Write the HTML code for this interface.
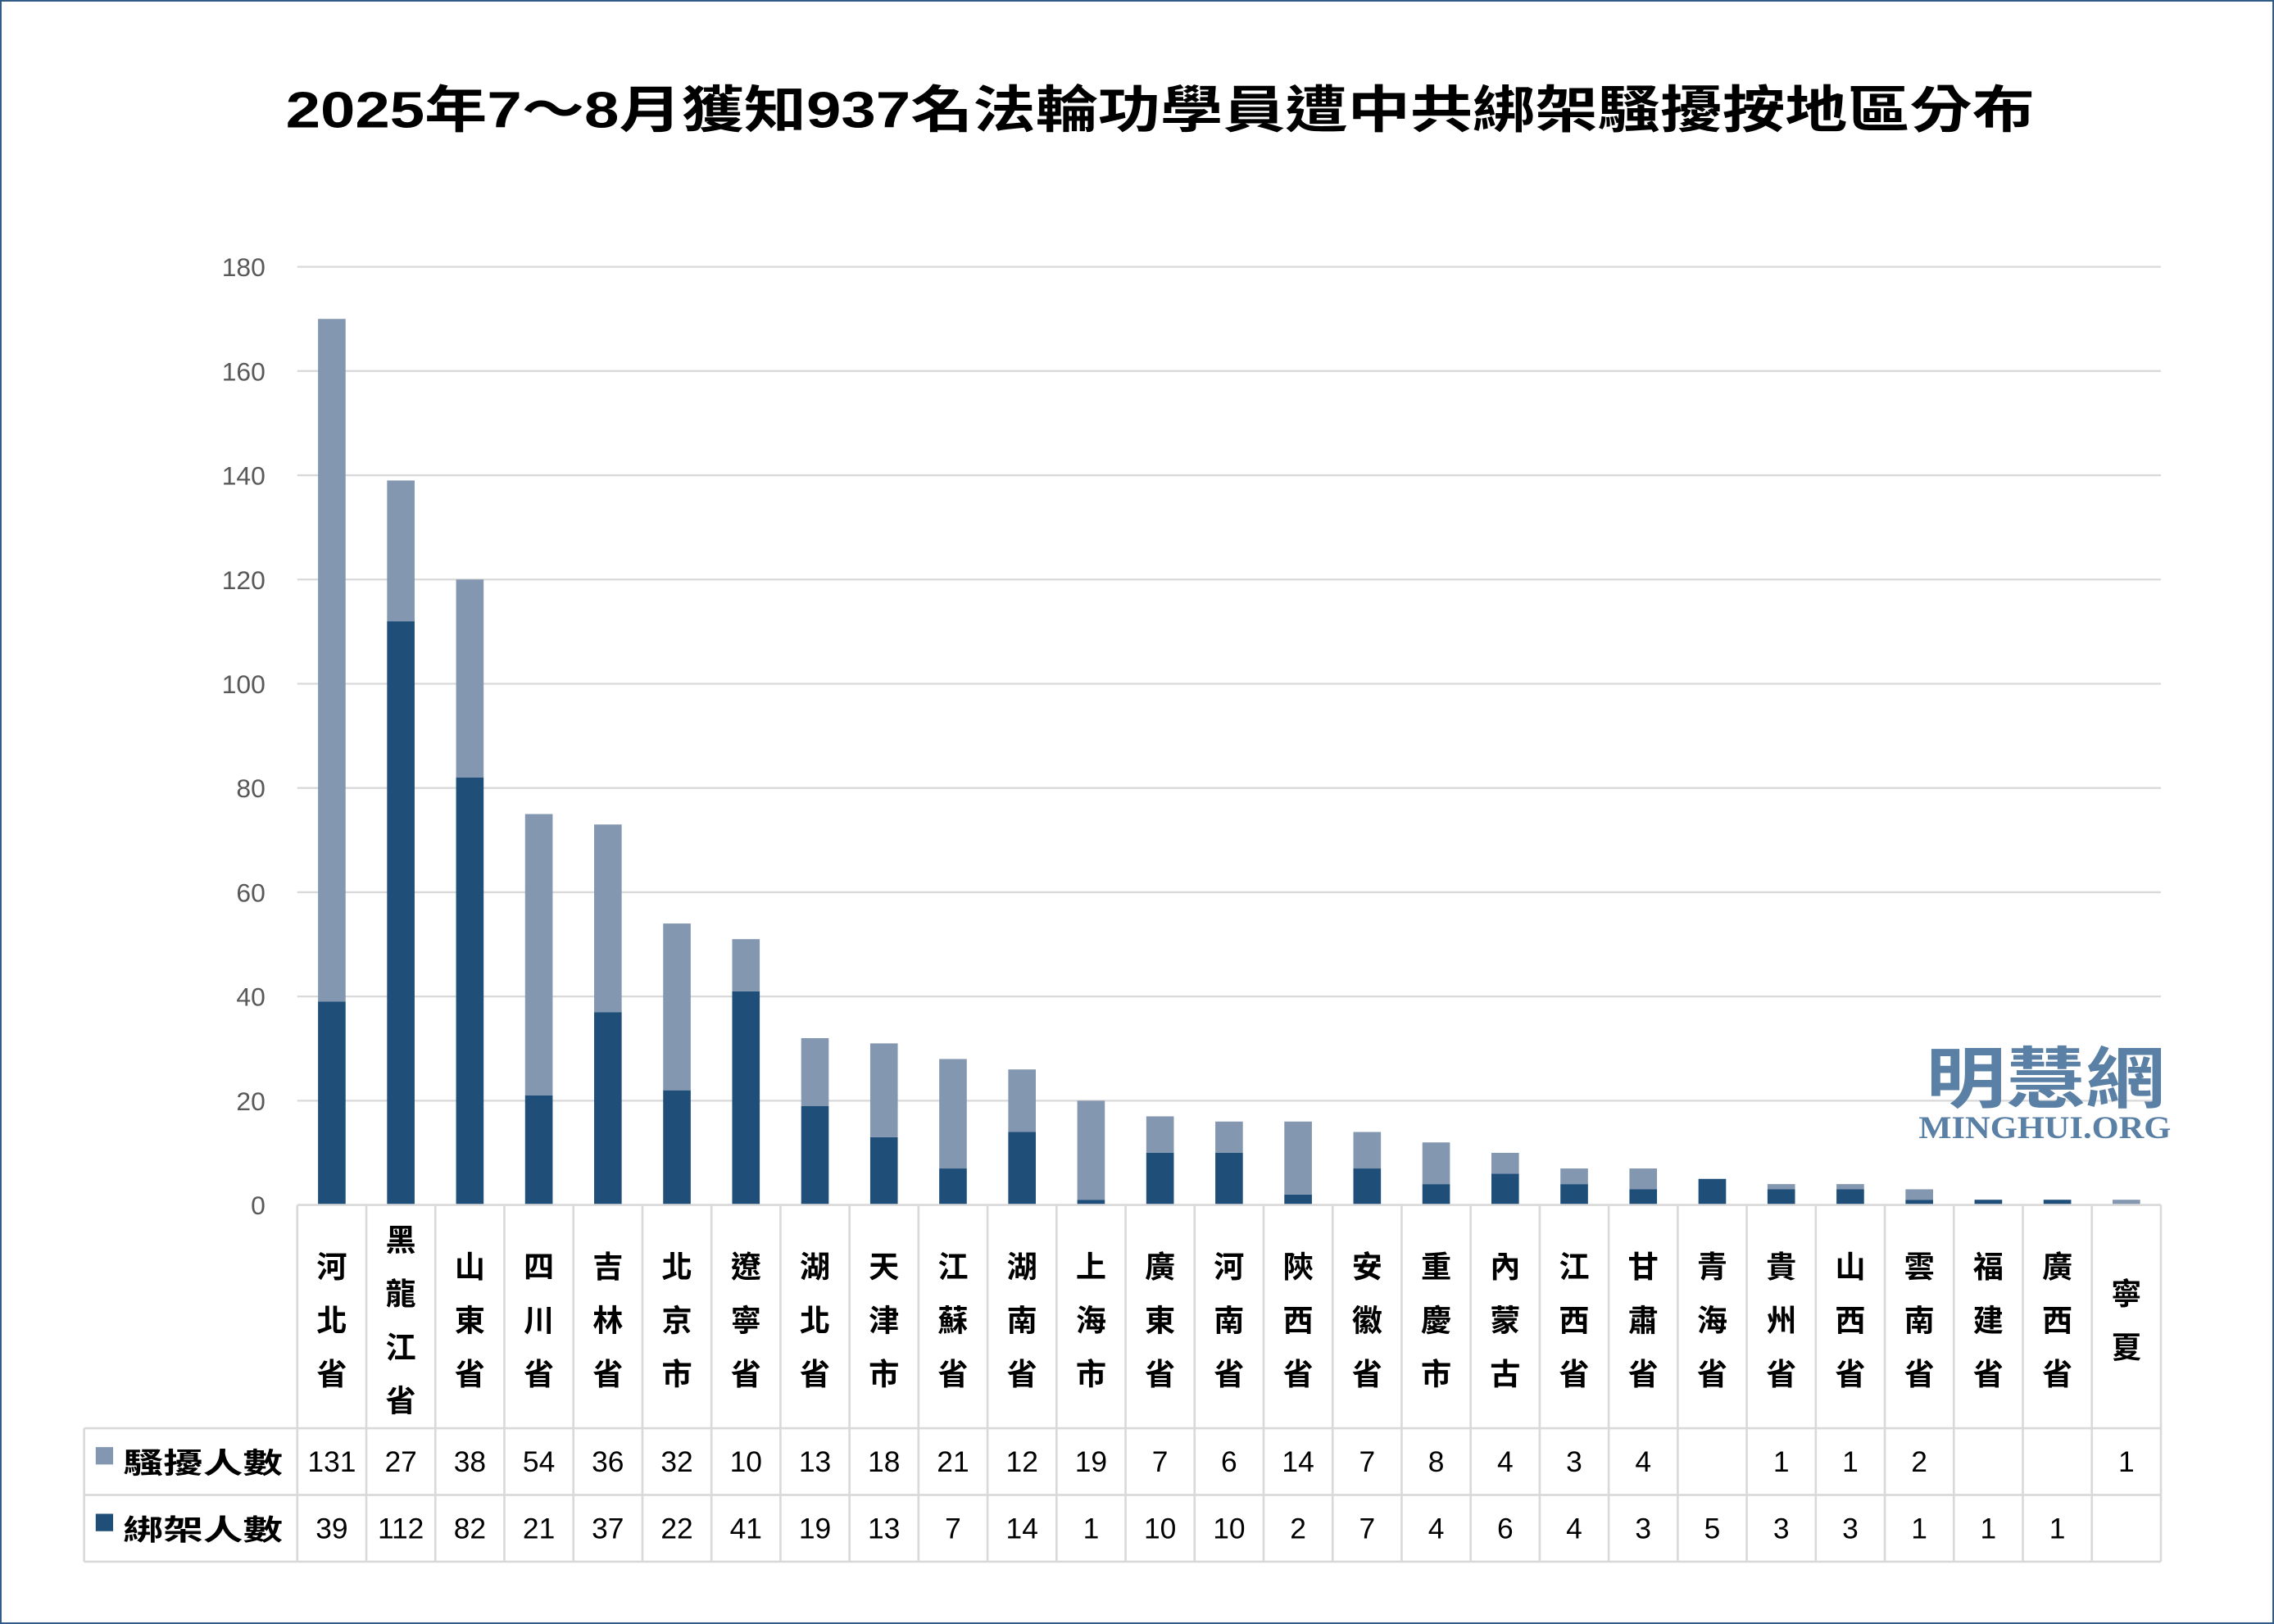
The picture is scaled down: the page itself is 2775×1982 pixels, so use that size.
<!DOCTYPE html>
<html><head><meta charset="utf-8">
<style>
html,body{margin:0;padding:0;background:#fff;}
svg{display:block;}
text{font-family:"Liberation Sans","Noto Sans CJK TC",sans-serif;}
</style></head>
<body>
<svg id="c" width="2775" height="1982" viewBox="0 0 1568 1120" preserveAspectRatio="none" xmlns="http://www.w3.org/2000/svg">
<rect x="0.5" y="0.5" width="1567" height="1119" fill="#fff" stroke="#2f5a86" stroke-width="1.2"/>
<text x="197" y="88" textLength="1206" lengthAdjust="spacingAndGlyphs" font-size="35" font-weight="bold" fill="#000">2025年7～8月獲知937名法輪功學員遭中共綁架騷擾按地區分布</text>
<g id="g"></g>
<text x="1328" y="760" textLength="165" lengthAdjust="spacingAndGlyphs" font-size="46" font-weight="bold" fill="#5b80a5" style="font-family:'Noto Sans CJK TC',sans-serif">明慧網</text>
<text x="1323" y="785" textLength="174" lengthAdjust="spacingAndGlyphs" font-size="22" font-weight="bold" fill="#5b80a5" style="font-family:'Liberation Serif',serif">MINGHUI.ORG</text>
</svg>
<script>
var names=["河北省","黑龍江省","山東省","四川省","吉林省","北京市","遼寧省","湖北省","天津市","江蘇省","湖南省","上海市","廣東省","河南省","陝西省","安徽省","重慶市","內蒙古","江西省","甘肅省","青海省","貴州省","山西省","雲南省","福建省","廣西省","寧夏"];
var h=[131,27,38,54,36,32,10,13,18,21,12,19,7,6,14,7,8,4,3,4,0,1,1,2,0,0,1];
var a=[39,112,82,21,37,22,41,19,13,7,14,1,10,10,2,7,4,6,4,3,5,3,3,1,1,1,0];
var s="",L=205,R=1490,Y0=831,K=647/180,W=(R-L)/27;
function y(v){return Y0-v*K;}
for(var v=0;v<=180;v+=20){
 if(v>0)s+='<line x1="'+L+'" x2="'+R+'" y1="'+y(v)+'" y2="'+y(v)+'" stroke="#d9d9d9" stroke-width="1.3"/>';
 s+='<text x="183" y="'+(y(v)+6.5)+'" text-anchor="end" font-size="18" fill="#595959">'+v+'</text>';
}
for(var i=0;i<27;i++){
 var cx=L+W*i+W/2,bw=19;
 if(a[i])s+='<rect x="'+(cx-bw/2)+'" y="'+y(a[i])+'" width="'+bw+'" height="'+(a[i]*K)+'" fill="#1f4e79"/>';
 if(h[i])s+='<rect x="'+(cx-bw/2)+'" y="'+y(a[i]+h[i])+'" width="'+bw+'" height="'+(h[i]*K)+'" fill="#8497b0"/>';
 var n=names[i],len=n.length,st=910-(len-1)*37/2;
 for(var j=0;j<len;j++)s+='<text x="'+cx+'" y="'+(st+j*37+8)+'" text-anchor="middle" font-size="21" font-weight="bold" fill="#000">'+n[j]+'</text>';
 if(h[i])s+='<text x="'+cx+'" y="1015" text-anchor="middle" font-size="20" fill="#000">'+h[i]+'</text>';
 if(a[i])s+='<text x="'+cx+'" y="1061" text-anchor="middle" font-size="20" fill="#000">'+a[i]+'</text>';
}
var lc='stroke="#d9d9d9" stroke-width="1.5"';
for(var i=0;i<=27;i++){var x=L+W*i;s+='<line x1="'+x+'" x2="'+x+'" y1="'+Y0+'" y2="1077" '+lc+'/>';}
s+='<line x1="58" x2="58" y1="985" y2="1077" '+lc+'/>';
s+='<line x1="'+L+'" x2="'+R+'" y1="'+Y0+'" y2="'+Y0+'" '+lc+'/>';
[985,1031,1077].forEach(function(yy){s+='<line x1="58" x2="'+R+'" y1="'+yy+'" y2="'+yy+'" '+lc+'/>';});
s+='<rect x="66" y="998" width="12" height="12" fill="#8497b0"/><text x="85" y="1016" font-size="20" font-weight="bold" textLength="110" lengthAdjust="spacingAndGlyphs">騷擾人數</text>';
s+='<rect x="66" y="1044" width="12" height="12" fill="#1f4e79"/><text x="85" y="1062" font-size="20" font-weight="bold" textLength="110" lengthAdjust="spacingAndGlyphs">綁架人數</text>';
document.getElementById("g").innerHTML=s;
</script>
</body></html>
